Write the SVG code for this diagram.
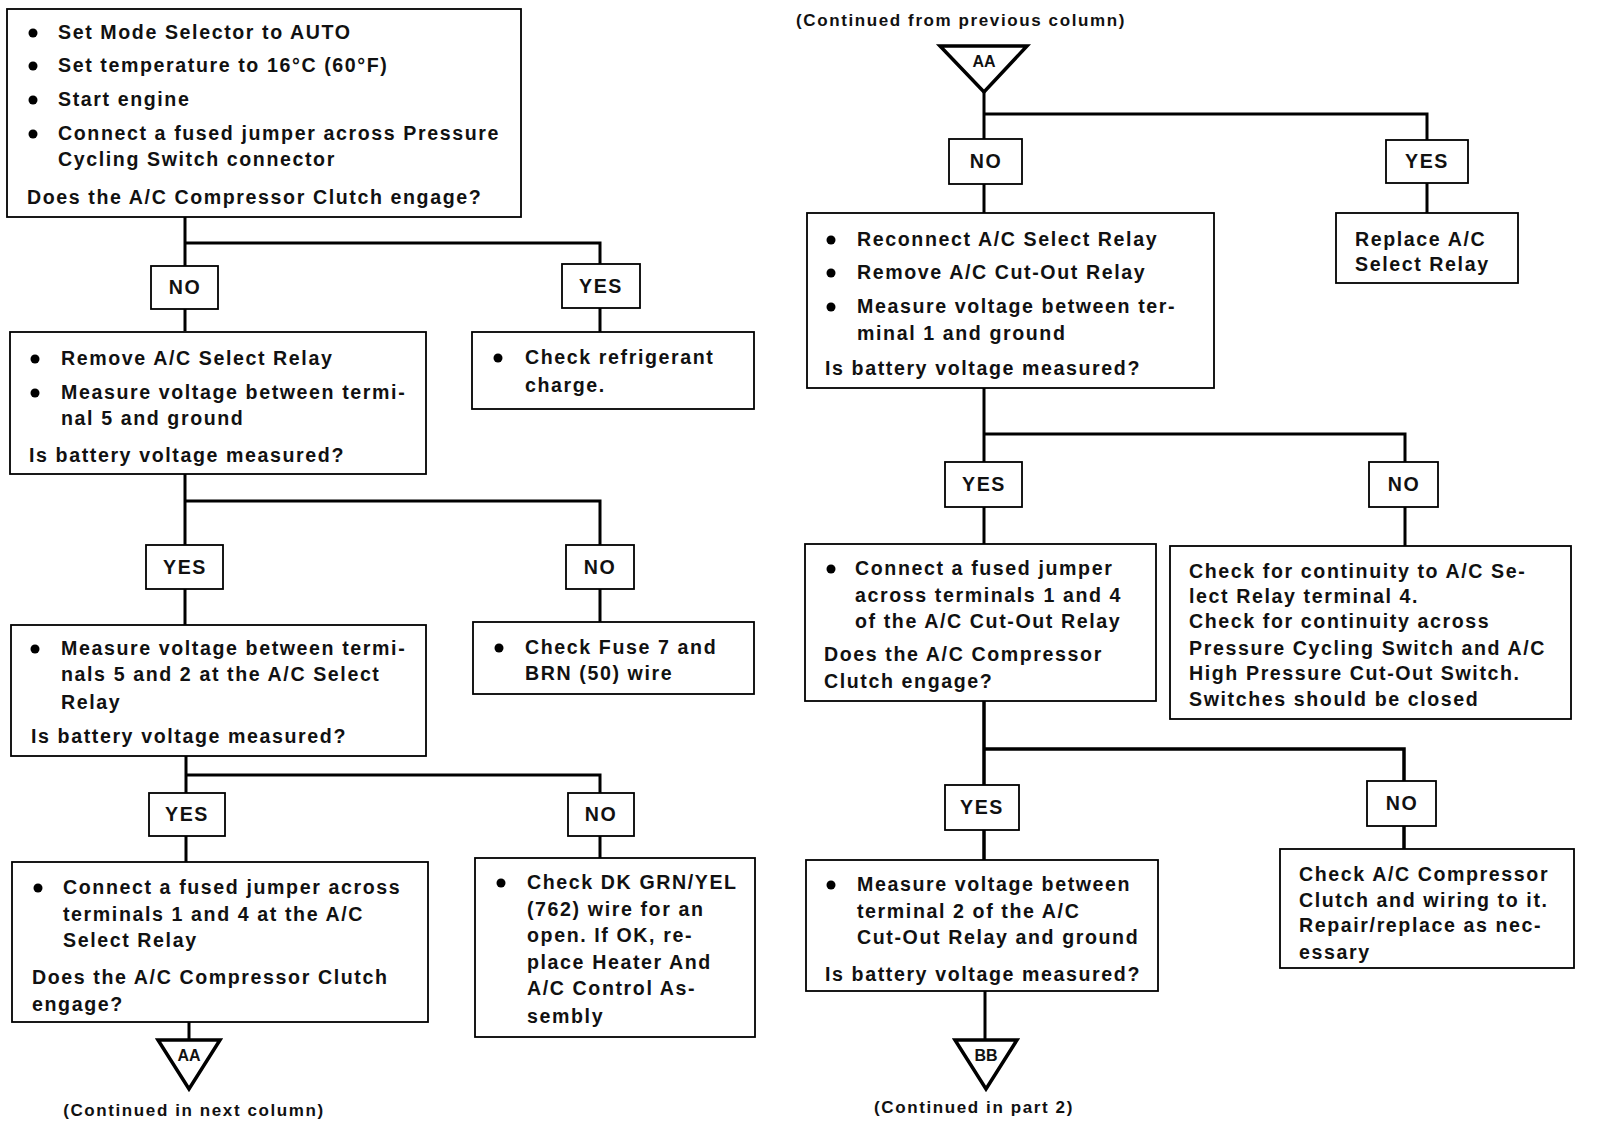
<svg xmlns="http://www.w3.org/2000/svg" width="1600" height="1126" viewBox="0 0 1600 1126">
<style>
.bx{fill:#fff;stroke:#000;stroke-width:1.8}
.lb{fill:#fff;stroke:#000;stroke-width:1.8}
.t{font-family:"Liberation Sans",Arial,sans-serif;font-weight:bold;font-size:19.6px;letter-spacing:1.6px;fill:#111}
.c{text-anchor:middle}
.s{font-family:"Liberation Sans",Arial,sans-serif;font-weight:bold;font-size:17px;letter-spacing:1.6px;fill:#111;text-anchor:middle}
.tri{fill:#fff;stroke:#000;stroke-width:3.5;stroke-linejoin:miter}
.tl{font-family:"Liberation Sans",Arial,sans-serif;font-weight:bold;font-size:16px;fill:#111;text-anchor:middle}
.ln{fill:none;stroke:#000;stroke-width:3}
</style>
<rect width="1600" height="1126" fill="#fff"/>

<g id="connectors">
<path class="ln" d="M185 217V331M185 243H600V264M600 308V332"/>
<path class="ln" d="M185 474V625M185 501H600V622"/>
<path class="ln" d="M186 756V862M186 775H600V858"/>
<path class="ln" d="M189 1022V1040"/>
<path class="ln" d="M984 90V213M984 114H1427V213"/>
<path class="ln" d="M984 388V544M984 434H1405V546"/>
<path class="ln" d="M984 701V860M984 749H1404V849" style="stroke-width:3.5"/>
<path class="ln" d="M985 991V1040"/>
</g>

<g id="n1">
<rect class="bx" x="7" y="9" width="514" height="208"/>
<circle cx="33" cy="33" r="4.5"/><text class="t" x="58" y="39">Set Mode Selector to AUTO</text>
<circle cx="33" cy="66" r="4.5"/><text class="t" x="58" y="72">Set temperature to 16°C (60°F)</text>
<circle cx="33" cy="100" r="4.5"/><text class="t" x="58" y="106">Start engine</text>
<circle cx="33" cy="134" r="4.5"/><text class="t" x="58" y="140">Connect a fused jumper across Pressure</text>
<text class="t" x="58" y="166">Cycling Switch connector</text>
<text class="t" x="27" y="204">Does the A/C Compressor Clutch engage?</text>
</g>

<g id="l1no"><rect class="lb" x="151" y="266" width="67" height="43"/><text class="t c" x="185" y="294">NO</text></g>
<g id="l1yes"><rect class="lb" x="562" y="264" width="78" height="44"/><text class="t c" x="601" y="293">YES</text></g>

<g id="n2">
<rect class="bx" x="10" y="332" width="416" height="142"/>
<circle cx="35" cy="359" r="4.5"/><text class="t" x="61" y="365">Remove A/C Select Relay</text>
<circle cx="35" cy="393" r="4.5"/><text class="t" x="61" y="399">Measure voltage between termi-</text>
<text class="t" x="61" y="425">nal 5 and ground</text>
<text class="t" x="29" y="462">Is battery voltage measured?</text>
</g>

<g id="n3">
<rect class="bx" x="472" y="332" width="282" height="77"/>
<circle cx="498" cy="358" r="4.5"/><text class="t" x="525" y="364">Check refrigerant</text>
<text class="t" x="525" y="392">charge.</text>
</g>

<g id="l2yes"><rect class="lb" x="146" y="545" width="77" height="44"/><text class="t c" x="185" y="574">YES</text></g>
<g id="l2no"><rect class="lb" x="566" y="545" width="68" height="44"/><text class="t c" x="600" y="574">NO</text></g>

<g id="n4">
<rect class="bx" x="11" y="625" width="415" height="131"/>
<circle cx="35" cy="649" r="4.5"/><text class="t" x="61" y="655">Measure voltage between termi-</text>
<text class="t" x="61" y="681">nals 5 and 2 at the A/C Select</text>
<text class="t" x="61" y="709">Relay</text>
<text class="t" x="31" y="743">Is battery voltage measured?</text>
</g>

<g id="n5">
<rect class="bx" x="473" y="622" width="281" height="72"/>
<circle cx="499" cy="648" r="4.5"/><text class="t" x="525" y="654">Check Fuse 7 and</text>
<text class="t" x="525" y="680">BRN (50) wire</text>
</g>

<g id="l3yes"><rect class="lb" x="149" y="793" width="76" height="43"/><text class="t c" x="187" y="821">YES</text></g>
<g id="l3no"><rect class="lb" x="568" y="793" width="66" height="43"/><text class="t c" x="601" y="821">NO</text></g>

<g id="n6">
<rect class="bx" x="12" y="862" width="416" height="160"/>
<circle cx="38" cy="888" r="4.5"/><text class="t" x="63" y="894">Connect a fused jumper across</text>
<text class="t" x="63" y="921">terminals 1 and 4 at the A/C</text>
<text class="t" x="63" y="947">Select Relay</text>
<text class="t" x="32" y="984">Does the A/C Compressor Clutch</text>
<text class="t" x="32" y="1011">engage?</text>
</g>

<g id="n7">
<rect class="bx" x="475" y="858" width="280" height="179"/>
<circle cx="501" cy="883" r="4.5"/><text class="t" x="527" y="889">Check DK GRN/YEL</text>
<text class="t" x="527" y="916">(762) wire for an</text>
<text class="t" x="527" y="942">open. If OK, re-</text>
<text class="t" x="527" y="969">place Heater And</text>
<text class="t" x="527" y="995">A/C Control As-</text>
<text class="t" x="527" y="1023">sembly</text>
</g>

<g id="aa1">
<path class="tri" d="M158 1040H220L189 1089Z"/>
<text class="tl" x="189" y="1061">AA</text>
</g>
<text class="s" x="194" y="1116">(Continued in next column)</text>

<text class="s" x="961" y="26">(Continued from previous column)</text>
<g id="aa2">
<path class="tri" d="M940 46H1027L984 92Z"/>
<text class="tl" x="984" y="67">AA</text>
</g>

<g id="r1no"><rect class="lb" x="949" y="139" width="73" height="45"/><text class="t c" x="986" y="168">NO</text></g>
<g id="r1yes"><rect class="lb" x="1386" y="140" width="82" height="43"/><text class="t c" x="1427" y="168">YES</text></g>

<g id="n8">
<rect class="bx" x="807" y="213" width="407" height="175"/>
<circle cx="831" cy="240" r="4.5"/><text class="t" x="857" y="246">Reconnect A/C Select Relay</text>
<circle cx="831" cy="273" r="4.5"/><text class="t" x="857" y="279">Remove A/C Cut-Out Relay</text>
<circle cx="831" cy="307" r="4.5"/><text class="t" x="857" y="313">Measure voltage between ter-</text>
<text class="t" x="857" y="340">minal 1 and ground</text>
<text class="t" x="825" y="375">Is battery voltage measured?</text>
</g>

<g id="n9">
<rect class="bx" x="1336" y="213" width="182" height="70"/>
<text class="t" x="1355" y="246">Replace A/C</text>
<text class="t" x="1355" y="271">Select Relay</text>
</g>

<g id="r2yes"><rect class="lb" x="945" y="462" width="77" height="45"/><text class="t c" x="984" y="491">YES</text></g>
<g id="r2no"><rect class="lb" x="1369" y="462" width="69" height="45"/><text class="t c" x="1404" y="491">NO</text></g>

<g id="n10">
<rect class="bx" x="805" y="544" width="351" height="157"/>
<circle cx="831" cy="569" r="4.5"/><text class="t" x="855" y="575">Connect a fused jumper</text>
<text class="t" x="855" y="602">across terminals 1 and 4</text>
<text class="t" x="855" y="628">of the A/C Cut-Out Relay</text>
<text class="t" x="824" y="661">Does the A/C Compressor</text>
<text class="t" x="824" y="688">Clutch engage?</text>
</g>

<g id="n11">
<rect class="bx" x="1170" y="546" width="401" height="173"/>
<text class="t" x="1189" y="578">Check for continuity to A/C Se-</text>
<text class="t" x="1189" y="603">lect Relay terminal 4.</text>
<text class="t" x="1189" y="628">Check for continuity across</text>
<text class="t" x="1189" y="655">Pressure Cycling Switch and A/C</text>
<text class="t" x="1189" y="680">High Pressure Cut-Out Switch.</text>
<text class="t" x="1189" y="706">Switches should be closed</text>
</g>

<g id="r3yes"><rect class="lb" x="945" y="785" width="74" height="45"/><text class="t c" x="982" y="814">YES</text></g>
<g id="r3no"><rect class="lb" x="1367" y="781" width="69" height="45"/><text class="t c" x="1402" y="810">NO</text></g>

<g id="n12">
<rect class="bx" x="806" y="860" width="352" height="131"/>
<circle cx="831" cy="885" r="4.5"/><text class="t" x="857" y="891">Measure voltage between</text>
<text class="t" x="857" y="918">terminal 2 of the A/C</text>
<text class="t" x="857" y="944">Cut-Out Relay and ground</text>
<text class="t" x="825" y="981">Is battery voltage measured?</text>
</g>

<g id="n13">
<rect class="bx" x="1280" y="849" width="294" height="119"/>
<text class="t" x="1299" y="881">Check A/C Compressor</text>
<text class="t" x="1299" y="907">Clutch and wiring to it.</text>
<text class="t" x="1299" y="932">Repair/replace as nec-</text>
<text class="t" x="1299" y="959">essary</text>
</g>

<g id="bb">
<path class="tri" d="M955 1040H1017L986 1089Z"/>
<text class="tl" x="986" y="1061">BB</text>
</g>
<text class="s" x="974" y="1113">(Continued in part 2)</text>
</svg>
